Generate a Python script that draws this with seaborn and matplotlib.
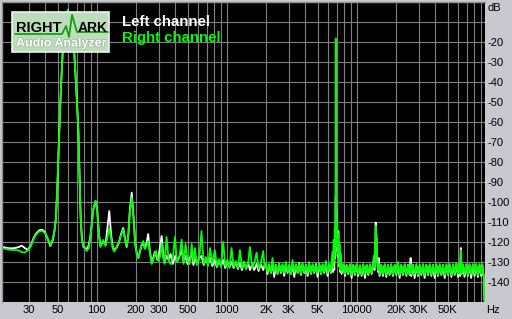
import numpy as np
import pandas as pd
import matplotlib
matplotlib.use("Agg")
import matplotlib.pyplot as plt
import seaborn as sns
from matplotlib.patches import Rectangle
from matplotlib.lines import Line2D
import matplotlib.patheffects as pe

# ---------------- data ----------------
# 19 Hz - 2 kHz
LOW_FREQ = [
    19, 20.5, 22, 23.5, 25, 26.5, 28, 29.5, 31, 32.5,
    34, 36, 38, 40, 42, 44, 46, 47.5, 48.6, 50,
    51.6, 53.2, 54.8, 57, 60, 63, 65, 67.2, 69.5, 72.3,
    74, 75.3, 77, 79, 81, 84, 87, 90, 94, 98,
    101, 104, 107, 112, 117, 121, 125, 129, 133, 137,
    142, 148, 154, 160, 165, 170, 175, 180, 186, 192,
    198, 204, 209, 215, 222, 228, 235, 242, 249, 256,
    265, 272, 280, 286, 293, 300,
    308, 316, 324, 333, 345, 357, 370, 385, 400, 415,
    432, 450, 466, 483, 500, 520, 538, 555, 570, 590,
    615, 640, 665, 690, 718, 745, 775, 810, 840, 870,
    905, 940, 975, 1010, 1050, 1090, 1130, 1175, 1220, 1265,
    1310, 1360, 1410, 1460, 1510, 1570, 1630, 1700, 1760, 1830,
    1910, 1960,
]
LOW_LEFT = [
    -122.5, -123, -123.2, -123, -122.6, -121.8, -123, -124, -122, -118.5,
    -116, -114.2, -113.8, -115, -118.5, -122, -119, -114, -108, -90,
    -64, -42, -25, -10, -4, -8, -15, -25, -42, -64,
    -88, -108, -118, -122.5, -123, -123.5, -121.5, -116, -104, -99.5,
    -104, -116, -122, -119.5, -121.5, -113, -104.5, -116, -122.5, -124,
    -123, -120.5, -116, -113, -118, -122.5, -117, -104, -95.3, -107,
    -121, -126, -128, -125, -121.5, -121, -123, -120.5, -116, -124,
    -130.5, -128, -125, -126.5, -129, -127,
    -122, -117, -125, -130, -127, -129, -126, -131, -127, -129.5,
    -127.5, -124, -130, -127, -131, -128, -126, -131.5, -128, -130.5,
    -128, -127, -131.5, -128.5, -131, -128, -132, -129, -132.5, -129.5,
    -132, -129, -133, -129.5, -132.5, -130, -133, -130, -133.5, -130.5,
    -134, -130, -133.5, -130.5, -134, -131, -134, -131, -134.5, -131,
    -134, -131.5,
]
LOW_RIGHT = [
    -123.2, -123.6, -124, -124, -124.2, -125, -125.3, -124.3, -122.5, -119,
    -116.5, -114.8, -114.5, -115.5, -118, -121.5, -118.5, -114, -108, -90,
    -64, -42, -25, -10, -4, -8, -15, -25, -42, -64,
    -88, -108, -118.5, -122, -123, -124.5, -123, -116.5, -104, -99.5,
    -104.5, -116, -122.5, -119, -122, -117.5, -113.3, -118, -123.5, -124.8,
    -122.5, -120, -116.5, -113.8, -118.5, -122, -117, -105, -97.8, -108,
    -121, -126.5, -128, -125, -121, -119.5, -123.5, -122, -119.5, -125,
    -131, -129, -126, -124.5, -128, -129.5,
    -127, -120.5, -128, -131, -117.5, -129, -131, -128, -117.5, -130,
    -128, -118.8, -131, -121, -129.5, -131, -121, -130, -123, -131.5,
    -128.5, -114.5, -131, -127.5, -132, -123, -131, -124, -132, -128.5,
    -132.5, -120, -132, -129, -133, -123, -132.5, -129.5, -133, -124,
    -133, -130, -133.5, -130.5, -122.5, -133, -130.5, -125.3, -133.5, -130.5,
    -124.5, -133,
]

# 2 kHz - 6.3 kHz noise floor
NOISE1_FREQ = [
    2000, 2060, 2120, 2190, 2250, 2320, 2390, 2460, 2530, 2610,
    2690, 2770, 2850, 2940, 3030, 3120, 3210, 3310, 3410, 3510,
    3610, 3720, 3830, 3950, 4070, 4190, 4310, 4440, 4580, 4710,
    4860, 5000, 5150, 5310, 5470, 5630, 5800, 5970, 6150, 6330,
]
NOISE1_LEFT = [
    -131, -136, -131.5, -135.5, -130, -137.5, -131.5, -136, -131, -135.5,
    -131.5, -137, -131, -135.5, -131.5, -136, -131, -137.5, -131.5, -135.5,
    -130.5, -136.5, -131, -135.5, -131.5, -137, -131, -136, -131.5, -135.5,
    -131, -137.5, -131, -136, -131.5, -135.5, -131, -137, -131.5, -135.5,
]
NOISE1_RIGHT = [
    -130.5, -135, -131, -135.5, -128, -135, -131.5, -136, -130.5, -135,
    -131, -135.5, -130, -135, -131.5, -136, -129, -135, -131, -135.5,
    -131, -136, -130.5, -135, -131.5, -135.5, -130, -136, -131, -135,
    -131.5, -135.5, -130.5, -136, -131, -135, -129.5, -135.5, -131, -135,
]

# 7 kHz test tone region
TONE_FREQ = [6500, 6580, 6650, 6720, 6780, 6830, 6870, 6900, 6930, 6970,
             7020, 7080, 7150, 7220, 7300, 7380, 7470, 7560, 7650]
TONE_LEFT = [-130, -135, -126, -134, -120, -128, -112, -97, -115, -104,
             -124, -116, -127, -114.5, -132, -125, -135, -130, -136]
TONE_RIGHT = [-125, -133, -119, -130, -113, -125, -104, -18.3, -112, -99,
              -122, -110, -126, -116, -131, -121, -134, -126, -135]

# 7.9 kHz - 13 kHz noise floor
NOISE2_FREQ = [7880, 8120, 8360, 8610, 8870, 9140, 9410, 9690, 9980, 10280,
               10590, 10910, 11240, 11570, 11920, 12280, 12650, 13030]
NOISE2_LEFT = [-131.5, -137, -131.5, -136, -131.5, -138, -131.5, -136.5, -131.5, -137,
               -132, -137, -131.5, -138, -131.5, -136.5, -131.5, -136]
NOISE2_RIGHT = [-131, -136, -131.5, -135.5, -131, -136.5, -131.5, -136, -131, -136,
                -131.5, -136.5, -131, -136, -131.5, -136, -131, -135.5]

# 14 kHz harmonic region
HARM_FREQ = [13350, 13550, 13700, 13820, 13920, 14000, 14080, 14180, 14300, 14450,
             14600, 14800, 15000]
HARM_LEFT = [-131, -129, -134, -122, -126, -110.3, -121, -118, -127, -130,
             -135, -128, -137]
HARM_RIGHT = [-131, -127, -133, -121, -127, -112, -120, -116, -126, -129,
              -134, -131, -136]

# 15 kHz - 60 kHz noise floor
NOISE3_FREQ = [
    15450, 15900, 16400, 16900, 17400, 17900, 18400, 19000, 19600, 20200,
    20800, 21400, 22000, 22700, 23400, 24100, 24800, 25500, 26000, 26300,
    27100, 27900, 28800, 29600, 30500, 31400, 32400, 33300, 34300, 35400,
    36400, 37500, 38600, 39800, 41000, 42200, 43500, 44800, 46100, 47500,
    49000, 50400, 51900, 53500, 55100, 56700, 58400, 60200,
]
NOISE3_LEFT = [
    -131.5, -137, -131.5, -137.5, -131.5, -136.5, -131.5, -137, -131.5, -136.5,
    -131, -138, -131.5, -136.5, -131.5, -137, -131.5, -136.5, -128, -137,
    -131.5, -138, -131.5, -137, -131.5, -136.5, -131.5, -138, -131.5, -136.5,
    -131.5, -137, -131.5, -138, -131.5, -137, -131.5, -136.5, -131.5, -138,
    -131.5, -136.5, -131.5, -137.5, -131.5, -136.5, -131, -137.5,
]
NOISE3_RIGHT = [
    -131.5, -136, -131, -136.5, -131.5, -136, -131, -136.5, -131.5, -136,
    -130, -136.5, -131.5, -136, -131, -136.5, -131.5, -136, -131, -136,
    -131.5, -136, -131, -136.5, -131.5, -136, -131, -136.5, -131.5, -136,
    -131, -136.5, -131.5, -136, -131, -136.5, -131, -136, -131.5, -136.5,
    -131, -136, -131, -136.5, -131, -136, -130.5, -136,
]

# 61 kHz - top of band with roll-off
TOP_FREQ = [61500, 62500, 63200, 64000, 65500, 67500, 69500, 71600, 73700, 75900,
            78200, 80600, 83000, 85500, 88000, 90600, 92500, 94000, 95000, 96000,
            97000]
TOP_LEFT = [-131.5, -137, -123, -136, -131.5, -137.5, -131.5, -137, -131.5, -138,
            -131.5, -137, -131.5, -137.5, -131.5, -137, -131.5, -136.5, -137, -149,
            -150]
TOP_RIGHT = [-131, -136, -124, -135.5, -131, -136, -131, -136.5, -131, -136,
             -131, -136, -131, -136.5, -131, -136, -131, -135.5, -136, -149,
             -150]

FREQ_HZ = LOW_FREQ + NOISE1_FREQ + TONE_FREQ + NOISE2_FREQ + HARM_FREQ + NOISE3_FREQ + TOP_FREQ
LEFT_DB = LOW_LEFT + NOISE1_LEFT + TONE_LEFT + NOISE2_LEFT + HARM_LEFT + NOISE3_LEFT + TOP_LEFT
RIGHT_DB = LOW_RIGHT + NOISE1_RIGHT + TONE_RIGHT + NOISE2_RIGHT + HARM_RIGHT + NOISE3_RIGHT + TOP_RIGHT

CHANNELS = ["Left channel", "Right channel"]
CHANNEL_COLORS = ["#ffffff", "#00ff00"]

X_TICKS = [30, 50, 100, 200, 300, 500, 1000, 2000, 3000, 5000, 10000, 20000, 30000, 50000]
X_TICK_LABELS = ["30", "50", "100", "200", "300", "500", "1000", "2K", "3K", "5K",
                 "10000", "20K", "30K", "50K"]
Y_TICKS = [-20, -30, -40, -50, -60, -70, -80, -90, -100, -110, -120, -130, -140]

# ---------------- figure ----------------
W, H = 512, 319
sns.set_style("dark")
plt.rcParams["font.family"] = ["Liberation Sans", "DejaVu Sans"]

fig = plt.figure(figsize=(W / 100, H / 100), dpi=100, facecolor="#c8c8ce")


def px(x, y):
    return x / W, 1 - y / H


ax_l, ax_r, ax_t, ax_b = 2, 485, 2, 302
ax = fig.add_axes([ax_l / W, 1 - ax_b / H, (ax_r - ax_l) / W, (ax_b - ax_t) / H])
ax.set_facecolor("black")

df = pd.DataFrame({
    "freq": FREQ_HZ * 2,
    "db": LEFT_DB + RIGHT_DB,
    "channel": [CHANNELS[0]] * len(FREQ_HZ) + [CHANNELS[1]] * len(FREQ_HZ),
})

ax.set_xscale("log")
sns.lineplot(data=df, x="freq", y="db", hue="channel", hue_order=CHANNELS,
             palette=dict(zip(CHANNELS, CHANNEL_COLORS)), estimator=None,
             sort=False, legend=False, linewidth=1.3, ax=ax)

ax.set_xlim(18.7, 97000)
ax.set_ylim(-150, 0)

# grid
grid_x = [m * d for d in (10, 100, 1000, 10000) for m in range(1, 10)
          if 18.7 < m * d < 97000 and m * d != 20]
grid_y = list(range(-150, 1, 10))
lab_x = dict(zip(X_TICKS, X_TICK_LABELS))
ax.set_xticks(grid_x)
ax.set_xticklabels([lab_x.get(g, "") for g in grid_x])
ax.xaxis.set_minor_locator(matplotlib.ticker.NullLocator())
ax.set_yticks(grid_y)
ax.set_yticklabels([str(g) if g in Y_TICKS else "" for g in grid_y])
ax.yaxis.tick_right()
ax.grid(True, color="#808080", linewidth=0.8)
ax.set_axisbelow(True)
ax.tick_params(axis="both", length=0, labelsize=8, colors="black")
ax.tick_params(axis="x", pad=2)
ax.tick_params(axis="y", pad=2)
ax.set_xlabel("")
ax.set_ylabel("")
for s in ("bottom", "right"):
    ax.spines[s].set_visible(False)
for s in ("left", "top"):
    ax.spines[s].set_color("#909090")
    ax.spines[s].set_linewidth(1.0)

# unit labels
fig.text(*px(487, 8), "dB", fontsize=8, va="center", ha="left", color="black")
fig.text(*px(486, 310), "Hz", fontsize=8, va="center", ha="left", color="black")

# legend texts
fig.text(*px(122, 22), "Left channel", fontsize=10.8, fontweight="bold",
         color=CHANNEL_COLORS[0], va="center", ha="left")
fig.text(*px(122, 38), "Right channel", fontsize=10.8, fontweight="bold",
         color=CHANNEL_COLORS[1], va="center", ha="left")

# logo
x0, y0 = px(12, 52)
x1, y1 = px(109, 12)
fig.add_artist(Rectangle((x0, y0), x1 - x0, y1 - y0, transform=fig.transFigure,
                         facecolor="#bcdcbc", edgecolor="#f0f0f0", linewidth=1.2, zorder=5))
wave = [(15, 34), (62, 34), (66, 26), (69, 37), (72, 15), (77, 32), (108, 32)]
fig.add_artist(Line2D([px(*p)[0] for p in wave], [px(*p)[1] for p in wave],
                      transform=fig.transFigure, color="#12a012", linewidth=1.3, zorder=6))
fig.text(*px(16, 27.5), "RIGHT", fontsize=10.5, fontweight="bold", color="black",
         va="center", ha="left", zorder=7)
fig.text(*px(78, 27.5), "ARK", fontsize=10, fontweight="bold", color="black",
         va="center", ha="left", zorder=7)
fig.text(*px(16, 43.5), "Audio Analyzer", fontsize=9, fontweight="bold", color="white",
         va="center", ha="left", zorder=7,
         path_effects=[pe.withStroke(linewidth=1.0, foreground="#9ab89a")])

fig.savefig("out.png", dpi=100, facecolor=fig.get_facecolor())
